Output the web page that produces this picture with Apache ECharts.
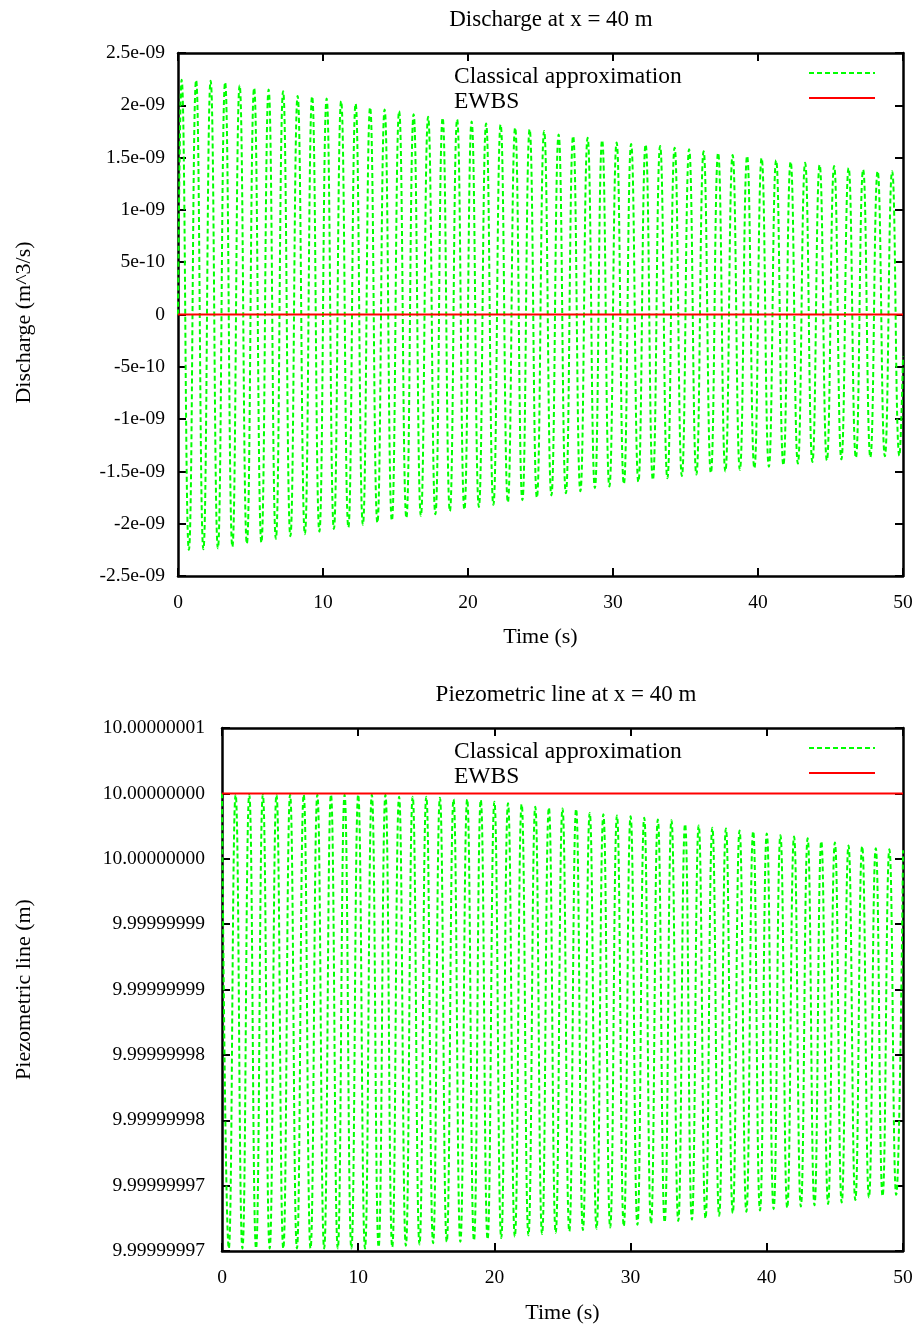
<!DOCTYPE html>
<html>
<head>
<meta charset="utf-8">
<script src="https://cdn.jsdelivr.net/npm/echarts@6/dist/echarts.min.js"></script>
<style>
html,body{margin:0;padding:0;background:#fff;}
#chart{width:923px;height:1328px;}
</style>
</head>
<body>
<div id="chart"></div>
<script>
// ---------- data ----------
// Time axis ticks (s)
const timeTicks = [0, 10, 20, 30, 40, 50];

// Discharge plot: y tick labels from bottom to top
const dischargeTickLabels = ['-2.5e-09', '-2e-09', '-1.5e-09', '-1e-09', '-5e-10', '0',
                             '5e-10', '1e-09', '1.5e-09', '2e-09', '2.5e-09'];
const dischargeTickValues = [-2.5e-9, -2e-9, -1.5e-9, -1e-9, -5e-10, 0, 5e-10, 1e-9, 1.5e-9, 2e-9, 2.5e-9];

// Piezometric plot: y tick labels from bottom to top
const headTickLabels = ['9.99999997', '9.99999997', '9.99999998', '9.99999998', '9.99999999',
                        '9.99999999', '10.00000000', '10.00000000', '10.00000001'];
const headTickValues = [9.999999965, 9.99999997, 9.999999975, 9.99999998, 9.999999985,
                        9.99999999, 9.999999995, 10.0, 10.000000005];

// Classical approximation - discharge: times of turning points (s)
const dischargeTime = [0,
  0.25,0.75, 1.25,1.75, 2.25,2.75, 3.25,3.75, 4.25,4.75, 5.25,5.75, 6.25,6.75, 7.25,7.75, 8.25,8.75, 9.25,9.75,
  10.25,10.75, 11.25,11.75, 12.25,12.75, 13.25,13.75, 14.25,14.75, 15.25,15.75, 16.25,16.75, 17.25,17.75, 18.25,18.75, 19.25,19.75,
  20.25,20.75, 21.25,21.75, 22.25,22.75, 23.25,23.75, 24.25,24.75, 25.25,25.75, 26.25,26.75, 27.25,27.75, 28.25,28.75, 29.25,29.75,
  30.25,30.75, 31.25,31.75, 32.25,32.75, 33.25,33.75, 34.25,34.75, 35.25,35.75, 36.25,36.75, 37.25,37.75, 38.25,38.75, 39.25,39.75,
  40.25,40.75, 41.25,41.75, 42.25,42.75, 43.25,43.75, 44.25,44.75, 45.25,45.75, 46.25,46.75, 47.25,47.75, 48.25,48.75, 49.25,49.75,
  50];
// Classical approximation - discharge values, in units of 1e-9 m^3/s
const dischargeClassicalE9 = [0,
  2.245,-2.25, 2.24,-2.245, 2.235,-2.235, 2.22,-2.22, 2.19,-2.19, 2.165,-2.18, 2.15,-2.145, 2.135,-2.12, 2.09,-2.10, 2.085,-2.075,
  2.065,-2.05, 2.04,-2.035, 2.015,-2.01, 1.98,-1.99, 1.96,-1.97, 1.945,-1.945, 1.915,-1.925, 1.89,-1.91, 1.88,-1.88, 1.865,-1.865,
  1.845,-1.84, 1.825,-1.82, 1.815,-1.795, 1.785,-1.775, 1.77,-1.75, 1.755,-1.73, 1.72,-1.71, 1.705,-1.69, 1.69,-1.66, 1.665,-1.645,
  1.645,-1.62, 1.63,-1.60, 1.625,-1.58, 1.61,-1.565, 1.595,-1.545, 1.58,-1.53, 1.56,-1.515, 1.545,-1.50, 1.525,-1.485, 1.515,-1.47,
  1.495,-1.455, 1.475,-1.44, 1.46,-1.425, 1.45,-1.41, 1.43,-1.395, 1.42,-1.385, 1.40,-1.37, 1.385,-1.365, 1.37,-1.355, 1.37,-1.35,
  -0.4];

// EWBS
const ewbsTime = [0, 50];
const dischargeEwbsE9 = [0, 0];

// Classical approximation - piezometric line: times of turning points (s)
const headTime = [0,
  0.5,1, 1.5,2, 2.5,3, 3.5,4, 4.5,5, 5.5,6, 6.5,7, 7.5,8, 8.5,9, 9.5,10,
  10.5,11, 11.5,12, 12.5,13, 13.5,14, 14.5,15, 15.5,16, 16.5,17, 17.5,18, 18.5,19, 19.5,20,
  20.5,21, 21.5,22, 22.5,23, 23.5,24, 24.5,25, 25.5,26, 26.5,27, 27.5,28, 28.5,29, 29.5,30,
  30.5,31, 31.5,32, 32.5,33, 33.5,34, 34.5,35, 35.5,36, 36.5,37, 37.5,38, 38.5,39, 39.5,40,
  40.5,41, 41.5,42, 42.5,43, 43.5,44, 44.5,45, 45.5,46, 46.5,47, 47.5,48, 48.5,49, 49.5,50];
// Piezometric line: deviation from the 10 m datum, in units of 1e-9 m
const HEAD_DATUM = 10;
const headClassicalNm = [0,
  -34.8,-0.1, -34.8,-0.1, -34.8,-0.1, -34.8,-0.1, -34.8,-0.1, -34.8,-0.1, -34.8,-0.1, -34.8,-0.1, -34.8,-0.1, -34.8,-0.1,
  -34.8,-0.1, -34.7,-0.1, -34.7,-0.25, -34.6,-0.25, -34.5,-0.25, -34.4,-0.33, -34.3,-0.45, -34.3,-0.45, -34.2,-0.51, -34.1,-0.64,
  -34.0,-0.76, -33.9,-0.84, -33.8,-1.02, -33.7,-1.1, -33.6,-1.15, -33.5,-1.2, -33.4,-1.5, -33.3,-1.6, -33.2,-1.7, -33.1,-1.75,
  -33.0,-1.86, -32.9,-2.0, -32.8,-2.05, -32.7,-2.35, -32.6,-2.45, -32.5,-2.62, -32.3,-2.68, -32.1,-2.83, -32.0,-2.9, -31.9,-3.06,
  -31.8,-3.2, -31.7,-3.3, -31.6,-3.44, -31.5,-3.67, -31.4,-3.75, -31.3,-3.98, -31.1,-4.05, -30.9,-4.2, -30.8,-4.28, -30.7,-4.35];
const headEwbsNm = [0, 0];

// ---------- styling ----------
const FONT = 'Liberation Serif';
const FS_TICK = 19.5;
const FS_TITLE = 23;
const FS_NAME = 22;
const FS_LEGEND = 23.5;
const GREEN = '#00ff00';
const RED = '#ff0000';

const pairs = (xs, ys, f) => xs.map((x, i) => [x, f(ys[i])]);

function labelFrom(values, labels) {
  return function (v) {
    let best = 0, bd = Infinity;
    values.forEach((tv, i) => { const d = Math.abs(tv - v); if (d < bd) { bd = d; best = i; } });
    return labels[best];
  };
}

const axisLineStyle = { color: '#000', width: 2.5 };
const tickStyle = { show: true, inside: true, length: 8, lineStyle: { color: '#000', width: 2 } };
const tickFont = { fontFamily: FONT, fontSize: FS_TICK, color: '#000' };
const nameFont = { fontFamily: FONT, fontSize: FS_NAME, color: '#000', fontWeight: 'normal' };
const titleFont = { fontFamily: FONT, fontSize: FS_TITLE, color: '#000', fontWeight: 'normal' };

function xAxes(grid, nameGap) {
  return [
    {
      gridIndex: grid, type: 'value', position: 'bottom',
      min: timeTicks[0], max: timeTicks[timeTicks.length - 1], interval: timeTicks[1] - timeTicks[0],
      axisLine: { show: true, onZero: false, lineStyle: axisLineStyle },
      axisTick: tickStyle, splitLine: { show: false },
      axisLabel: Object.assign({ margin: 17 }, tickFont),
      name: 'Time (s)', nameLocation: 'middle', nameGap: nameGap,
      nameTextStyle: nameFont
    },
    {
      gridIndex: grid, type: 'value', position: 'top',
      min: timeTicks[0], max: timeTicks[timeTicks.length - 1], interval: timeTicks[1] - timeTicks[0],
      axisLine: { show: true, onZero: false, lineStyle: axisLineStyle },
      axisTick: tickStyle, splitLine: { show: false }, axisLabel: { show: false }
    }
  ];
}

function yAxes(grid, values, labels, name, nameGap, labelMargin, namePad) {
  const interval = values[1] - values[0];
  return [
    {
      gridIndex: grid, type: 'value', position: 'left', scale: true,
      min: values[0], max: values[values.length - 1], interval: interval,
      axisLine: { show: true, onZero: false, lineStyle: axisLineStyle },
      axisTick: tickStyle, splitLine: { show: false },
      axisLabel: Object.assign({ margin: labelMargin, formatter: labelFrom(values, labels) }, tickFont),
      name: name, nameLocation: 'middle', nameGap: nameGap, nameRotate: 90,
      nameTextStyle: Object.assign({ padding: namePad }, nameFont)
    },
    {
      gridIndex: grid, type: 'value', position: 'right', scale: true,
      min: values[0], max: values[values.length - 1], interval: interval,
      axisLine: { show: true, onZero: false, lineStyle: axisLineStyle },
      axisTick: tickStyle, splitLine: { show: false }, axisLabel: { show: false }
    }
  ];
}

function legends(top) {
  return [
    {
      data: ['Classical approximation', 'EWBS'], orient: 'vertical', left: 449, top: top,
      padding: 0, itemWidth: 0, itemHeight: 20, itemGap: 1, icon: 'rect',
      itemStyle: { color: 'rgba(0,0,0,0)', borderWidth: 0, opacity: 0 },
      selectedMode: false,
      textStyle: { fontFamily: FONT, fontSize: FS_LEGEND, color: '#000', lineHeight: 20 }
    },
    {
      data: ['Classical approximation', 'EWBS'], orient: 'vertical', left: 808, top: top,
      padding: 0, itemWidth: 66, itemHeight: 20, itemGap: 9,
      itemStyle: { color: 'rgba(0,0,0,0)', borderColor: 'rgba(0,0,0,0)', borderWidth: 0, opacity: 0 },
      selectedMode: false, formatter: function () { return ''; },
      textStyle: { fontFamily: FONT, fontSize: 1, color: '#000', lineHeight: 20 }
    }
  ];
}

const greenLine = { color: GREEN, width: 2, type: [5, 3] };
const redLine = { color: RED, width: 2, type: 'solid' };

const option = {
  animation: false,
  backgroundColor: '#fff',
  title: [
    { text: 'Discharge at x = 40 m', left: 551, top: 8, textAlign: 'center', padding: 0,
      textStyle: titleFont },
    { text: 'Piezometric line at x = 40 m', left: 566, top: 683, textAlign: 'center', padding: 0,
      textStyle: titleFont }
  ],
  legend: legends(65).concat(legends(740)),
  grid: [
    { left: 178, top: 53, width: 725, height: 523, containLabel: false },
    { left: 222, top: 728, width: 681, height: 523, containLabel: false }
  ],
  xAxis: xAxes(0, 50).concat(xAxes(1, 51)),
  yAxis: yAxes(0, dischargeTickValues, dischargeTickLabels, 'Discharge (m^3/s)', 143, 13, [0, 16, 0, 0])
    .concat(yAxes(1, headTickValues, headTickLabels, 'Piezometric line (m)', 187, 17, [0, 0, 0, 0])),
  series: [
    { name: 'Classical approximation', type: 'line', xAxisIndex: 0, yAxisIndex: 0,
      data: pairs(dischargeTime, dischargeClassicalE9, v => v * 1e-9),
      symbol: 'none', showSymbol: false, smooth: true, lineStyle: greenLine, itemStyle: { color: GREEN } },
    { name: 'EWBS', type: 'line', xAxisIndex: 0, yAxisIndex: 0,
      data: pairs(ewbsTime, dischargeEwbsE9, v => v * 1e-9),
      symbol: 'none', showSymbol: false, lineStyle: redLine, itemStyle: { color: RED } },
    { name: 'Classical approximation', type: 'line', xAxisIndex: 2, yAxisIndex: 2,
      data: pairs(headTime, headClassicalNm, v => HEAD_DATUM + v * 1e-9),
      symbol: 'none', showSymbol: false, smooth: true, lineStyle: greenLine, itemStyle: { color: GREEN } },
    { name: 'EWBS', type: 'line', xAxisIndex: 2, yAxisIndex: 2,
      data: pairs(ewbsTime, headEwbsNm, v => HEAD_DATUM + v * 1e-9),
      symbol: 'none', showSymbol: false, lineStyle: redLine, itemStyle: { color: RED } }
  ]
};

const chart = echarts.init(document.getElementById('chart'), null, { renderer: 'canvas' });
chart.setOption(option);
</script>
</body>
</html>
